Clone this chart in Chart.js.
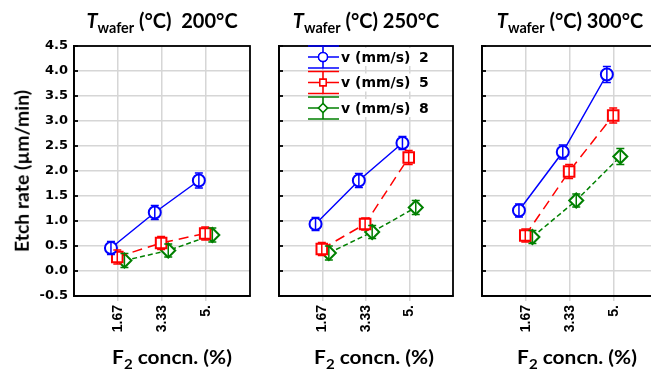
<!DOCTYPE html>
<html>
<head>
<meta charset="utf-8">
<script src="https://cdn.jsdelivr.net/npm/chart.js@4.4.0/dist/chart.umd.min.js"></script>
<style>
html, body { margin: 0; padding: 0; background: #fff; overflow: hidden; width: 651px; height: 374px; }
.box { position: absolute; top: 0; }
.lbl { position: absolute; font-family: Lato, sans-serif; font-weight: bold; color: #000; white-space: nowrap; line-height: 1; }
.lbl sub { font-size: 72%; vertical-align: -0.35em; line-height: 0; }
.ttl { font-size: 20px; top: 10px; transform: translateX(-50%); }
.xt { font-size: 19px; top: 347px; transform: translateX(-50%) scaleX(1.1); }
</style>
</head>
<body>
<div class="box" style="left:0"><canvas id="c1" width="256" height="374"></canvas></div>
<div class="box" style="left:256px"><canvas id="c2" width="204" height="374"></canvas></div>
<div class="box" style="left:460px"><canvas id="c3" width="200" height="374"></canvas></div>

<div class="lbl ttl" style="left:162px"><i>T</i><sub>wafer</sub> (°C)&nbsp; 200°C</div>
<div class="lbl ttl" style="left:366px"><i>T</i><sub>wafer</sub> (°C) 250°C</div>
<div class="lbl ttl" style="left:570px"><i>T</i><sub>wafer</sub> (°C) 300°C</div>

<div class="lbl xt" style="left:172px">F<sub>2</sub> concn. (%)</div>
<div class="lbl xt" style="left:374px">F<sub>2</sub> concn. (%)</div>
<div class="lbl xt" style="left:577px">F<sub>2</sub> concn. (%)</div>

<div class="lbl" style="left:22px;top:171px;font-size:18.5px;transform:translate(-50%,-50%) rotate(-90deg) scaleX(1.05)">Etch rate (µm/min)</div>

<script>
// F2 concentration (%) categories and their tick labels
const conc = [1.67, 3.33, 5];
const concLabels = ['1.67', '3.33', '5.'];

// speed v (mm/s)
const speeds = [2, 5, 8];
const colors = ['rgb(0,0,255)', 'rgb(255,0,0)', 'rgb(0,128,0)'];
const markers = ['circle', 'rect', 'rectRot'];
const dashes = [[], [10, 6], [5, 3]];
// small horizontal dodge of each series, in % units
const dodge = [-0.27, -0.03, 0.24];

// etch rate (µm/min) per wafer temperature, series order v = 2, 5, 8
const rate200 = [[0.46, 1.17, 1.81], [0.28, 0.56, 0.75], [0.21, 0.41, 0.72]];
const rate250 = [[0.94, 1.81, 2.56], [0.44, 0.94, 2.27], [0.36, 0.78, 1.27]];
const rate300 = [[1.21, 2.38, 3.93], [0.71, 1.99, 3.11], [0.68, 1.41, 2.29]];

// error bar half-heights
const err200 = [[0.13, 0.14, 0.15], [0.14, 0.13, 0.13], [0.14, 0.13, 0.14]];
const err250 = [[0.13, 0.14, 0.13], [0.13, 0.12, 0.14], [0.14, 0.13, 0.14]];
const err300 = [[0.13, 0.14, 0.16], [0.13, 0.14, 0.15], [0.13, 0.13, 0.16]];

const gridColor = '#d6d6d6';

const frame = {
    id: 'frame',
    beforeDatasetsDraw(chart) {
        const a = chart.chartArea, ctx = chart.ctx;
        ctx.save();
        ctx.strokeStyle = '#000';
        ctx.lineWidth = 1.8;
        ctx.strokeRect(a.left, a.top, a.right - a.left, a.bottom - a.top);
        // short inward ticks on the left edge
        chart.scales.y.ticks.forEach(t => {
            const py = chart.scales.y.getPixelForValue(t.value);
            ctx.beginPath();
            ctx.moveTo(a.left, py);
            ctx.lineTo(a.left + 4, py);
            ctx.stroke();
        });
        ctx.restore();
    }
};

const errorBars = {
    id: 'errorBars',
    afterDatasetsDraw(chart) {
        const ctx = chart.ctx, xs = chart.scales.x, ys = chart.scales.y;
        ctx.save();
        ctx.lineWidth = 1.5;
        chart.data.datasets.forEach(ds => {
            ctx.strokeStyle = ds.borderColor;
            ds.data.forEach((p, i) => {
                const px = xs.getPixelForValue(p.x);
                const top = ys.getPixelForValue(p.y + ds.err[i]);
                const bot = ys.getPixelForValue(p.y - ds.err[i]);
                ctx.beginPath();
                ctx.moveTo(px, top); ctx.lineTo(px, bot);
                ctx.moveTo(px - 4, top); ctx.lineTo(px + 4, top);
                ctx.moveTo(px - 4, bot); ctx.lineTo(px + 4, bot);
                ctx.stroke();
            });
        });
        ctx.restore();
    }
};

const legendBox = {
    id: 'legendBox',
    afterDraw(chart) {
        if (!chart.options.plugins.legendBox.show) return;
        const ctx = chart.ctx;
        const xs = 52, xe = 83, xm = 67, tx = 85;
        ctx.save();
        speeds.forEach((s, i) => {
            const cy = 57 + 25.5 * i;
            ctx.fillStyle = '#fff';
            ctx.fillRect(tx - 1, cy - 9, 84, 18);
            ctx.strokeStyle = colors[i];
            ctx.lineWidth = 1.5;
            ctx.beginPath();
            ctx.moveTo(xs, cy - 11); ctx.lineTo(xe, cy - 11);
            ctx.moveTo(xs, cy + 11); ctx.lineTo(xe, cy + 11);
            ctx.moveTo(xs, cy); ctx.lineTo(xe, cy);
            ctx.moveTo(xm, cy - 11); ctx.lineTo(xm, cy + 11);
            ctx.stroke();
            ctx.fillStyle = '#fff';
            Chart.helpers.drawPoint(ctx, {pointStyle: markers[i], radius: 4.5, borderWidth: 1.2}, xm, cy);
            ctx.fill();
            ctx.stroke();
            ctx.fillStyle = '#000';
            ctx.font = 'bold 14px "DejaVu Sans"';
            ctx.textBaseline = 'middle';
            ctx.fillText('v (mm/s)', tx, cy + 1);
            ctx.fillText(String(s), tx + 78, cy + 1);
        });
        ctx.restore();
    }
};

function makeChart(id, rates, errs, opts) {
    const datasets = speeds.map((s, k) => ({
        label: 'v (mm/s) ' + s,
        data: conc.map((c, i) => ({x: c + dodge[k], y: rates[k][i]})),
        err: errs[k],
        borderColor: colors[k],
        backgroundColor: '#fff',
        borderWidth: 1.5,
        borderDash: dashes[k],
        pointStyle: markers[k],
        pointRadius: k === 0 ? 6 : (k === 1 ? 7.5 : 7),
        pointBorderWidth: 2,
        pointBackgroundColor: '#fff',
        pointBorderColor: colors[k],
        fill: false,
        tension: 0
    }));
    return new Chart(document.getElementById(id), {
        type: 'line',
        data: {datasets: datasets},
        options: {
            responsive: false,
            animation: false,
            layout: {autoPadding: false, padding: {top: 46, right: opts.right, left: 0, bottom: 0}},
            plugins: {legend: {display: false}, tooltip: {enabled: false}, legendBox: {show: opts.legend}},
            scales: {
                x: {
                    type: 'linear',
                    min: 0,
                    max: 6.667,
                    afterFit: s => { s.height = 78; },
                    afterBuildTicks: s => { s.ticks = conc.map(v => ({value: v})); },
                    grid: {color: gridColor, lineWidth: 1.5, tickLength: 5, tickColor: gridColor},
                    border: {color: '#000', width: 1.8},
                    ticks: {
                        autoSkip: false,
                        minRotation: 90,
                        maxRotation: 90,
                        padding: 4,
                        color: '#000',
                        font: {family: '"Liberation Sans", Arial', weight: 'bold', size: 14},
                        callback: (v, i) => concLabels[i]
                    }
                },
                y: {
                    min: -0.5,
                    max: 4.5,
                    afterFit: s => { s.width = opts.yw; },
                    grid: {color: gridColor, lineWidth: 1.5, drawTicks: false},
                    border: {color: '#000', width: 1.8},
                    ticks: {
                        display: opts.yticks,
                        stepSize: 0.5,
                        padding: 6,
                        color: '#000',
                        font: {family: '"DejaVu Sans"', weight: 'bold', size: 13},
                        callback: v => v.toFixed(1)
                    }
                }
            }
        },
        plugins: [frame, errorBars, legendBox]
    });
}

makeChart('c1', rate200, err200, {yw: 74, right: 6, yticks: true, legend: false});
makeChart('c2', rate250, err250, {yw: 23, right: 7, yticks: false, legend: true});
makeChart('c3', rate300, err300, {yw: 22, right: 2, yticks: false, legend: false});
</script>
</body>
</html>
